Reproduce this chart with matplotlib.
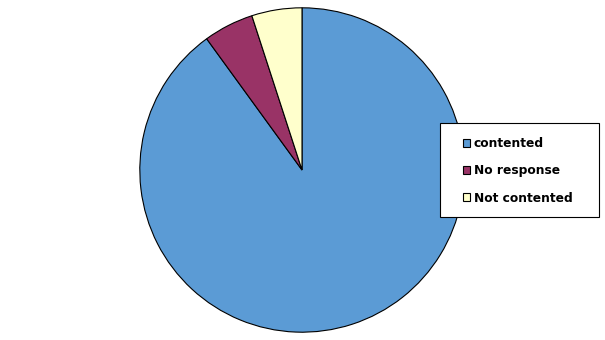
import matplotlib.pyplot as plt
from matplotlib.patches import Rectangle

labels = ["contented", "No response", "Not contented"]
values = [90, 5, 5]
colors = ["#5b9bd5", "#993366", "#ffffcc"]

fig = plt.figure(figsize=(6.05, 3.4), dpi=100)
# pie centre ~ (302, 170) px, radius ~ 163 px
ax = fig.add_axes([139 / 605, 7 / 340, 326 / 605, 326 / 340])
wedges, _ = ax.pie(
    values,
    colors=colors,
    startangle=90,
    counterclock=False,
    wedgeprops=dict(edgecolor="black", linewidth=0.8),
)
ax.set_xlim(-1.005, 1.005)
ax.set_ylim(-1.005, 1.005)
ax.set_aspect("auto")
ax.axis("off")

# legend box drawn by hand so its size matches the original
box = Rectangle(
    (440 / 605, 1 - 217 / 340), 159 / 605, 94 / 340,
    transform=fig.transFigure, facecolor="white", edgecolor="black",
    linewidth=0.8, zorder=5,
)
fig.add_artist(box)

leg = fig.legend(
    wedges,
    labels,
    loc="upper left",
    bbox_to_anchor=(463 / 605, 1 - 137 / 340),
    prop=dict(weight="bold", size=8.8),
    frameon=False,
    handlelength=0.6,
    handleheight=0.6,
    handletextpad=0.3,
    labelspacing=1.17,
    borderpad=0,
    borderaxespad=0,
)
leg.set_zorder(6)

fig.savefig("out.png", dpi=100)
